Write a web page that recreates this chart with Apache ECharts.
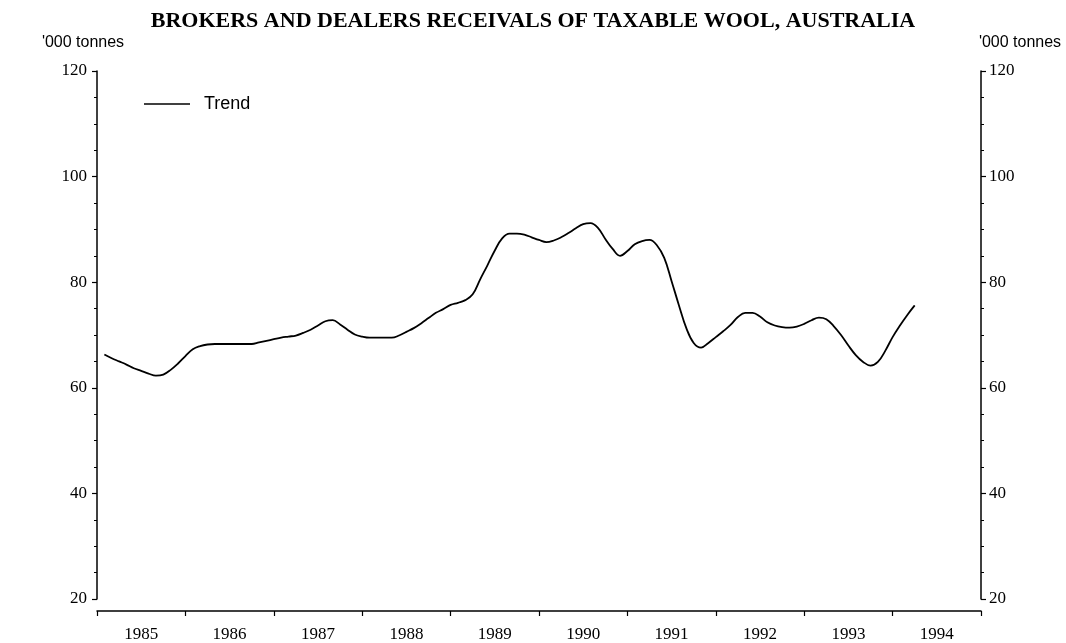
<!DOCTYPE html>
<html>
<head>
<meta charset="utf-8">
<script src="https://cdn.jsdelivr.net/npm/echarts@6/dist/echarts.min.js"></script>
<style>
html,body{margin:0;padding:0;background:#fff;}
#chart{width:1066px;height:643px;}
</style>
</head>
<body>
<div id="chart"></div>
<script>
// ---- data ----
const titleText = 'BROKERS AND DEALERS RECEIVALS OF TAXABLE WOOL, AUSTRALIA';
const unitLabel = "'000 tonnes";
const years = ['1985','1986','1987','1988','1989','1990','1991','1992','1993','1994'];
const yMin = 20, yMax = 120, yStep = 20;
const seriesName = 'Trend';
// first value is for Feb 1985 (month 1, counting Jan 1985 as month 0); monthly values follow
const trendFirstMonth = 1;
const trendValues = [
  66.3, 65.6, 65.0, 64.4, 63.7, 63.2, 62.7, 62.3, 62.5, 63.4, 64.6,
  66.0, 67.3, 67.9, 68.2, 68.3, 68.3, 68.3, 68.3, 68.3, 68.3, 68.6, 68.9,
  69.2, 69.5, 69.7, 69.9, 70.4, 71.0, 71.8, 72.6, 72.8, 72.0, 71.0, 70.1,
  69.7, 69.5, 69.5, 69.5, 69.5, 69.9, 70.6, 71.3, 72.2, 73.2, 74.2, 74.9,
  75.7, 76.1, 76.6, 77.7, 80.5, 83.2, 86.0, 88.3, 89.2, 89.2, 89.0, 88.5,
  88.0, 87.6, 87.9, 88.5, 89.3, 90.2, 91.0, 91.2, 90.3, 88.2, 86.3, 85.0,
  85.9, 87.2, 87.8, 88.0, 87.0, 84.6, 80.2, 75.6, 71.3, 68.5, 67.6, 68.5,
  69.6, 70.7, 71.9, 73.4, 74.2, 74.2, 73.5, 72.4, 71.8, 71.5, 71.4, 71.6,
  72.1, 72.8, 73.3, 73.0, 71.7, 70.0, 68.0, 66.2, 64.9, 64.2, 64.9, 67.0,
  69.6, 71.8, 73.8, 75.6
];

// ---- chart ----
const serif = 'Liberation Serif';
const sans = 'Liberation Sans';
const black = '#000';
const seriesData = trendValues.map((v, i) => [trendFirstMonth + i, v]);

const yAxisCommon = {
  type: 'value', min: yMin, max: yMax, interval: yStep,
  name: unitLabel, nameLocation: 'end', nameGap: 20,
  axisLine: { show: true, lineStyle: { color: black, width: 1.5 } },
  axisTick: { show: true, length: 5, lineStyle: { color: black, width: 1.2 } },
  minorTick: { show: true, splitNumber: 4, length: 3, lineStyle: { color: black, width: 1 } },
  splitLine: { show: false },
  axisLabel: { color: black, fontFamily: serif, fontSize: 17, margin: 10 }
};

const chart = echarts.init(document.getElementById('chart'), null, { renderer: 'canvas' });
chart.setOption({
  backgroundColor: '#fff',
  animation: false,
  title: {
    text: titleText, left: 'center', top: 5,
    textStyle: { fontFamily: serif, fontWeight: 'bold', fontSize: 22, color: black }
  },
  legend: {
    data: [seriesName], left: 139, top: 90,
    icon: 'rect', itemWidth: 46, itemHeight: 1.6, itemGap: 10,
    textStyle: { fontFamily: sans, fontSize: 18, color: black, padding: [0, 0, 0, 9] }
  },
  grid: { left: 97, right: 85, top: 71, bottom: 44, containLabel: false },
  xAxis: [
    {
      type: 'category', data: years, boundaryGap: true, position: 'bottom', offset: 12,
      axisLine: { show: true, lineStyle: { color: black, width: 1.5 } },
      axisTick: { show: true, length: 5, alignWithLabel: false, lineStyle: { color: black, width: 1.2 } },
      axisLabel: { color: black, fontFamily: serif, fontSize: 17, margin: 15 },
      splitLine: { show: false }
    },
    { type: 'value', min: 0, max: years.length * 12, show: false }
  ],
  yAxis: [
    Object.assign({}, yAxisCommon, {
      position: 'left',
      nameTextStyle: { fontFamily: sans, fontSize: 16, color: black, align: 'center', padding: [0, 28, 0, 0] }
    }),
    Object.assign({}, yAxisCommon, {
      position: 'right',
      axisLabel: { color: black, fontFamily: serif, fontSize: 17, margin: 8 },
      nameTextStyle: { fontFamily: sans, fontSize: 16, color: black, align: 'center', padding: [0, 0, 0, 78] }
    })
  ],
  series: [{
    name: seriesName, type: 'line', xAxisIndex: 1, yAxisIndex: 0,
    data: seriesData, smooth: 0.4, symbol: 'none',
    lineStyle: { color: black, width: 1.8 },
    itemStyle: { color: black }
  }]
});
</script>
</body>
</html>
